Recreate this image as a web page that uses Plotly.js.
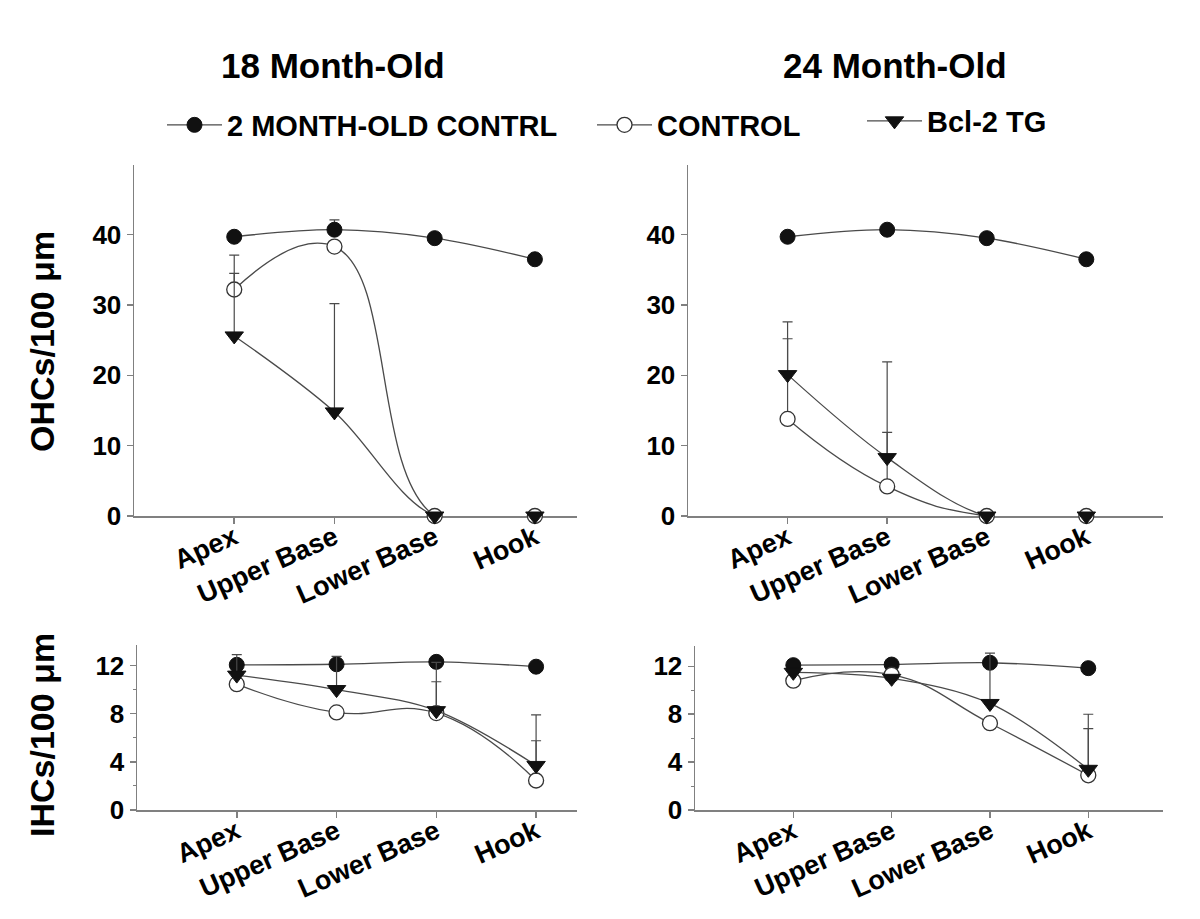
<!DOCTYPE html>
<html>
<head>
<meta charset="utf-8">
<script src="https://cdn.plot.ly/plotly-3.0.1.min.js"></script>
<style>html,body{margin:0;padding:0;background:#fff;}#chart{width:1200px;height:919px;}</style>
</head>
<body>
<div id="chart"></div>
<script>
// ---------- data ----------
const categories = ['Apex', 'Upper Base', 'Lower Base', 'Hook'];
const seriesNames = ['2 MONTH-OLD CONTRL', 'CONTROL', 'Bcl-2 TG'];
const panelTitles = ['18 Month-Old', '24 Month-Old'];
const ohcTicks = [0, 10, 20, 30, 40];
const ihcTicks = [0, 4, 8, 12];

// OHCs / 100 um, 18 month-old
const ohc18Young = [39.7, 40.7, 39.5, 36.5];
const ohc18YoungErr = [0, 1.4, 0, 0];
const ohc18Control = [32.2, 38.3, 0, 0];
const ohc18ControlErr = [2.3, 0, 0, 0];
const ohc18Tg = [25.6, 14.8, 0, 0];
const ohc18TgErr = [11.5, 15.4, 0, 0];

// OHCs / 100 um, 24 month-old
const ohc24Young = [39.7, 40.7, 39.5, 36.5];
const ohc24YoungErr = [0, 0, 0, 0];
const ohc24Control = [13.8, 4.2, 0, 0];
const ohc24ControlErr = [11.4, 7.7, 0, 0];
const ohc24Tg = [20.1, 8.3, 0, 0];
const ohc24TgErr = [7.5, 13.6, 0, 0];

// IHCs / 100 um, 18 month-old
const ihc18Young = [12.05, 12.1, 12.3, 11.9];
const ihc18YoungErr = [0, 0, 0, 0];
const ihc18Control = [10.45, 8.1, 8.05, 2.45];
const ihc18ControlErr = [0, 0, 2.6, 3.3];
const ihc18Tg = [11.2, 10.0, 8.25, 3.7];
const ihc18TgErr = [1.7, 2.75, 4.0, 4.2];

// IHCs / 100 um, 24 month-old
const ihc24Young = [12.1, 12.15, 12.3, 11.85];
const ihc24YoungErr = [0, 0, 0, 0];
const ihc24Control = [10.8, 11.3, 7.25, 2.9];
const ihc24ControlErr = [0, 0, 0, 3.9];
const ihc24Tg = [11.5, 11.0, 8.9, 3.4];
const ihc24TgErr = [0, 0, 4.2, 4.6];

// ---------- styling ----------
const FONT = 'Liberation Sans, Arial, Helvetica, sans-serif';
const LINE = '#4a4a4a';
const AXIS = '#808080';
const markerStyles = [
  {symbol: 'circle', size: 15, color: '#111', line: {color: '#111', width: 1}},
  {symbol: 'circle', size: 15, color: '#ffffff', line: {color: '#333', width: 1.3}},
  {symbol: 'triangle-down', size: 16, color: '#111', line: {color: '#111', width: 1}}
];
const smooth = [1, 1.3, 1];

function mk(y, err, s, xa, ya, showLeg, legendId) {
  return {
    type: 'scatter', mode: 'lines+markers',
    x: categories, y: y,
    xaxis: xa, yaxis: ya,
    name: seriesNames[s],
    showlegend: showLeg, legend: legendId,
    cliponaxis: false,
    line: {shape: 'spline', smoothing: smooth[s], color: LINE, width: 1.3},
    marker: markerStyles[s],
    error_y: {type: 'data', symmetric: false, array: err, arrayminus: err.map(() => 0),
              color: LINE, thickness: 1.2, width: 5},
    hoverinfo: 'skip'
  };
}

const data = [
  mk(ohc18Young, ohc18YoungErr, 0, 'x', 'y', true, 'legend'),
  mk(ohc18Control, ohc18ControlErr, 1, 'x', 'y', true, 'legend2'),
  mk(ohc18Tg, ohc18TgErr, 2, 'x', 'y', true, 'legend3'),
  mk(ohc24Young, ohc24YoungErr, 0, 'x2', 'y2', false),
  mk(ohc24Control, ohc24ControlErr, 1, 'x2', 'y2', false),
  mk(ohc24Tg, ohc24TgErr, 2, 'x2', 'y2', false),
  mk(ihc18Young, ihc18YoungErr, 0, 'x3', 'y3', false),
  mk(ihc18Control, ihc18ControlErr, 1, 'x3', 'y3', false),
  mk(ihc18Tg, ihc18TgErr, 2, 'x3', 'y3', false),
  mk(ihc24Young, ihc24YoungErr, 0, 'x4', 'y4', false),
  mk(ihc24Control, ihc24ControlErr, 1, 'x4', 'y4', false),
  mk(ihc24Tg, ihc24TgErr, 2, 'x4', 'y4', false)
];

const W = 1200, H = 919;
const px = v => v / W;
const py = v => 1 - v / H;

function xax(domL, domR, hi, anchor) {
  return {
    domain: [px(domL), px(domR)], anchor: anchor,
    type: 'category', range: [-1, hi],
    showline: true, linecolor: AXIS, linewidth: 1.5,
    ticks: 'outside', ticklen: 6, tickwidth: 1.5, tickcolor: AXIS,
    tickangle: -24, ticklabelstandoff: -12,
    showgrid: false, zeroline: false, layer: 'below traces',
    tickfont: {family: FONT, size: 27, color: '#000', weight: 'bold'}
  };
}
function yax(top, bottom, range, tickvals, anchor, minorD) {
  const a = {
    domain: [py(bottom), py(top)], anchor: anchor,
    range: range, tickmode: 'array', tickvals: tickvals,
    showline: true, linecolor: AXIS, linewidth: 1.5,
    ticks: 'outside', ticklen: 6, tickwidth: 1.5, tickcolor: AXIS,
    showgrid: false, zeroline: false, layer: 'below traces',
    tickfont: {family: FONT, size: 26, color: '#000', weight: 'bold'}
  };
  if (minorD) a.minor = {dtick: minorD, ticks: 'outside', ticklen: 3, tickcolor: AXIS, tickwidth: 1};
  return a;
}

const legendBase = {orientation: 'h', yanchor: 'middle', xanchor: 'left', y: py(125),
  font: {family: FONT, size: 29, color: '#000', weight: 'bold'}, bgcolor: 'rgba(0,0,0,0)',
  itemwidth: 55, borderwidth: 0};

const layout = {
  width: W, height: H,
  margin: {l: 0, r: 0, t: 0, b: 0},
  paper_bgcolor: '#fff', plot_bgcolor: '#fff',
  font: {family: FONT, color: '#000'},
  showlegend: true,
  legend: Object.assign({}, legendBase, {x: px(162)}),
  legend2: Object.assign({}, legendBase, {x: px(592)}),
  legend3: Object.assign({}, legendBase, {x: px(862), y: py(121)}),
  xaxis: xax(134, 577, 3.42, 'y'),
  yaxis: yax(165, 516, [0, 49.9], ohcTicks, 'x'),
  xaxis2: xax(688, 1163, 3.77, 'y2'),
  yaxis2: yax(165, 516, [0, 49.9], ohcTicks, 'x2'),
  xaxis3: xax(137, 577, 3.41, 'y3'),
  yaxis3: yax(645, 810, [0, 13.7], ihcTicks, 'x3', 2),
  xaxis4: xax(695, 1163, 3.76, 'y4'),
  yaxis4: yax(646, 810, [0, 13.7], ihcTicks, 'x4', 2),
  annotations: [
    {text: panelTitles[0], xref: 'paper', yref: 'paper', x: px(333), y: py(65), showarrow: false,
     xanchor: 'center', yanchor: 'middle', font: {family: FONT, size: 35, color: '#000', weight: 'bold'}},
    {text: panelTitles[1], xref: 'paper', yref: 'paper', x: px(895), y: py(65), showarrow: false,
     xanchor: 'center', yanchor: 'middle', font: {family: FONT, size: 35, color: '#000', weight: 'bold'}},
    {text: 'OHCs/100 \u03bcm', xref: 'paper', yref: 'paper', x: px(42), y: py(342), showarrow: false,
     textangle: -90, xanchor: 'center', yanchor: 'middle', font: {family: FONT, size: 34, color: '#000', weight: 'bold'}},
    {text: 'IHCs/100 \u03bcm', xref: 'paper', yref: 'paper', x: px(42), y: py(735), showarrow: false,
     textangle: -90, xanchor: 'center', yanchor: 'middle', font: {family: FONT, size: 34, color: '#000', weight: 'bold'}}
  ]
};

Plotly.newPlot('chart', data, layout, {displayModeBar: false, staticPlot: true});
</script>
</body>
</html>
